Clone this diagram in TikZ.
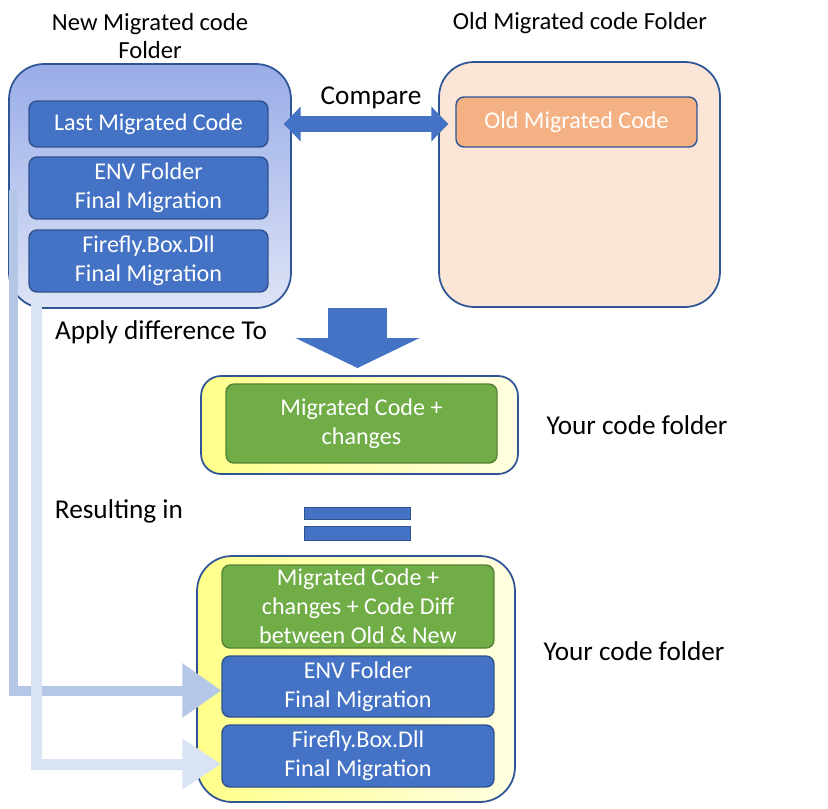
\documentclass[tikz,border=0pt]{standalone}
\usepackage{fontspec}
\setmainfont{Carlito}
\usepackage{tikz}
\usetikzlibrary{arrows.meta,positioning}
\definecolor{boxblue}{HTML}{4472C4}
\definecolor{boxblueline}{HTML}{2F528F}
\definecolor{frameline}{HTML}{2F5597}
\definecolor{codegreen}{HTML}{70AD47}
\definecolor{codegreenline}{HTML}{548235}
\definecolor{oldorange}{HTML}{F4B183}
\definecolor{peach}{HTML}{FBE5D6}
\definecolor{newtop}{HTML}{99ACE8}
\definecolor{newbottom}{HTML}{DEE4F6}
\definecolor{yelA}{HTML}{FFFF8A}
\definecolor{yelB}{HTML}{FFFFE2}
\definecolor{flowA}{HTML}{B4C7E7}
\definecolor{flowB}{HTML}{DAE3F3}
\tikzstyle{block} = [rectangle, draw=boxblueline, fill=boxblue, align=center,
                     rounded corners=0.16cm, minimum width=4.78cm, text=white,
                     font=\fontsize{13.7}{16.4}\selectfont, inner sep=1pt, line width=0.8pt]
\tikzstyle{folder} = [rectangle, draw=frameline, line width=1pt]
\tikzstyle{lbl} = [font=\fontsize{15.5}{18}\selectfont, inner sep=0pt]
\tikzstyle{ttl} = [font=\fontsize{14}{16}\selectfont, align=center, inner sep=0pt]
\tikzstyle{flow} = [line width=0.2cm]

\begin{document}
\begin{tikzpicture}[x=0.02cm, y=-0.02cm]
    \useasboundingbox (0,0) rectangle (828,808);

    \node [ttl] (newttl) at (150,36) {New Migrated code\\Folder};
    \node [ttl] (oldttl) at (580,23) {Old Migrated code Folder};

    \node [folder, top color=newtop, bottom color=newbottom, rounded corners=0.7cm,
           minimum width=5.64cm, minimum height=4.88cm] (newdir) at (150,186) {};
    \node [block, minimum height=0.92cm] (last) at (148.5,124) {Last Migrated Code};
    \node [block, minimum height=1.24cm] (envA) at (148.5,188) {ENV Folder\\Final Migration};
    \node [block, minimum height=1.24cm] (ffA)  at (148.5,261) {Firefly.Box.Dll\\Final Migration};

    \node [folder, fill=peach, rounded corners=0.7cm,
           minimum width=5.62cm, minimum height=4.9cm] (olddir) at (579.5,184.5) {};
    \node [block, fill=oldorange, draw=frameline, minimum width=4.82cm,
           minimum height=1cm] (old) at (576.5,122) {Old Migrated Code};

    \node [lbl] (cmp) at (371,98) {Compare};
    \draw [boxblue, line width=0.32cm,
           {Triangle[length=0.34cm,width=0.68cm]}-{Triangle[length=0.34cm,width=0.68cm]}]
          ([xshift=0.3cm]last.east) -- ([xshift=-0.14cm]last.east -| old.west);

    \node [lbl] (apply) at (161,332) {Apply difference To};
    \coordinate (dtop) at (357.5,308);
    \coordinate (dbot) at (357.5,368);
    \draw [boxblue, line width=1.18cm, -{Triangle[length=0.6cm,width=2.46cm]}] (dtop) -- (dbot);

    \node [folder, left color=yelA, right color=yelB, rounded corners=0.4cm,
           minimum width=6.34cm, minimum height=1.96cm] (yours) at (359.5,425) {};
    \node [block, fill=codegreen, draw=codegreenline, minimum width=5.42cm,
           minimum height=1.58cm] (mig) at (361.5,423.5) {Migrated Code +\\changes};
    \node [lbl] (your1) at (637,425) {Your code folder};

    \node [lbl] (result) at (119,511) {Resulting in};
    \fill [boxblue, draw=boxblueline] (304,507) rectangle (410,519);
    \fill [boxblue, draw=boxblueline] (304,526) rectangle (410,540);

    \node [folder, left color=yelA, right color=yelB, rounded corners=0.7cm,
           minimum width=6.36cm, minimum height=4.92cm] (final) at (356,679) {};
    \node [block, fill=codegreen, draw=codegreenline, minimum width=5.44cm,
           minimum height=1.66cm] (merged) at (358,606.5) {Migrated Code +\\changes + Code Diff\\between Old \& New};
    \node [block, minimum width=5.44cm, minimum height=1.22cm] (envB) at (358,686.5) {ENV Folder\\Final Migration};
    \node [block, minimum width=5.44cm, minimum height=1.24cm] (ffB)  at (358,756) {Firefly.Box.Dll\\Final Migration};
    \node [lbl] (your2) at (634,651) {Your code folder};

    \coordinate (envsrc) at (13.5,190);
    \coordinate (ffsrc) at (36.5,293);
    \draw [flow, flowA, -{Triangle[length=0.78cm,width=1.04cm]}] (envsrc) |- ([yshift=-0.08cm]envB.west);
    \draw [flow, flowB, line width=0.22cm, -{Triangle[length=0.78cm,width=0.96cm]}] (ffsrc) |- ([yshift=-0.16cm]ffB.west);
\end{tikzpicture}
\end{document}
